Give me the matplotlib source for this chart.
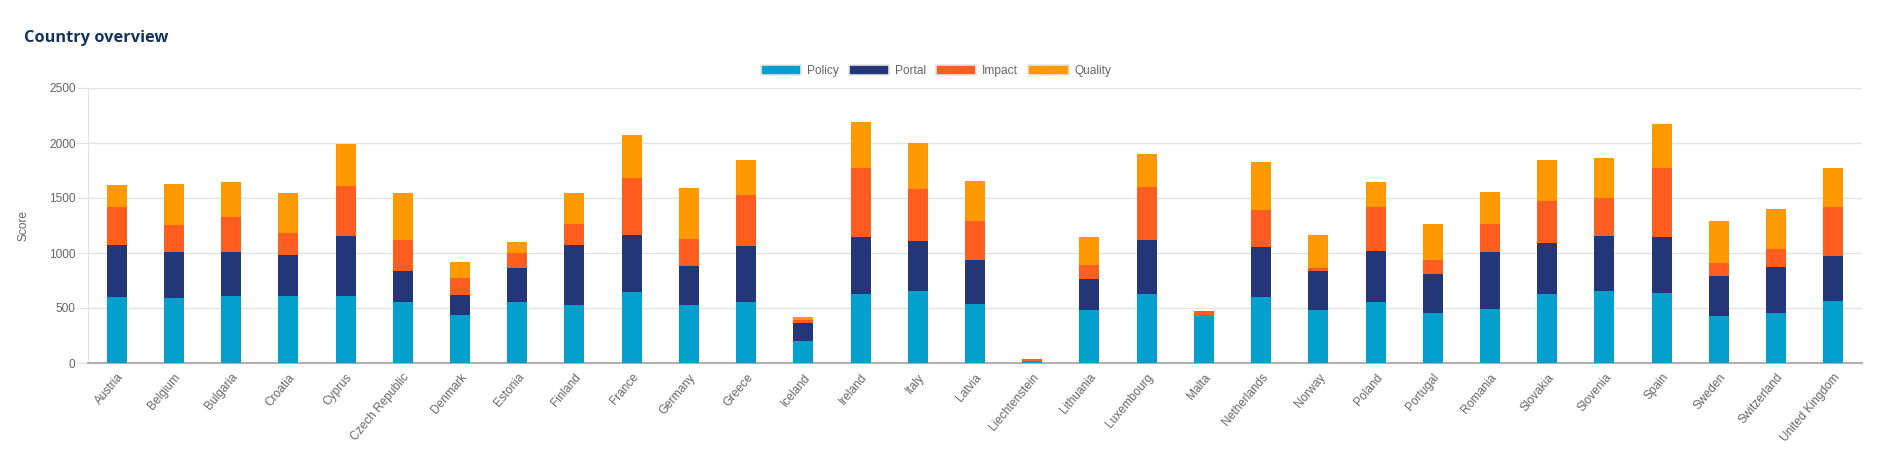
import numpy as np
import matplotlib
matplotlib.use("Agg")
import matplotlib.pyplot as plt

countries = ["Austria", "Belgium", "Bulgaria", "Croatia", "Cyprus", "Czech Republic",
             "Denmark", "Estonia", "Finland", "France", "Germany", "Greece", "Iceland",
             "Ireland", "Italy", "Latvia", "Liechtenstein", "Lithuania", "Luxembourg",
             "Malta", "Netherlands", "Norway", "Poland", "Portugal", "Romania", "Slovakia",
             "Slovenia", "Spain", "Sweden", "Switzerland", "United Kingdom"]

# values (segment sizes)
policy = [603, 594, 612, 612, 612, 558, 439, 558, 530, 648, 530, 558, 203,
          630, 658, 539, 22, 485, 630, 433, 603, 485, 558, 458, 494, 630,
          658, 639, 430, 458, 567]
portal = [473, 418, 400, 373, 546, 281, 182, 309, 546, 519, 355, 509, 164,
          518, 454, 400, 0, 282, 491, 0, 455, 354, 463, 354, 518, 464,
          500, 509, 364, 418, 409]
impact = [345, 240, 312, 200, 454, 282, 155, 136, 191, 518, 245, 463, 27,
          628, 473, 355, 17, 127, 482, 43, 336, 28, 400, 127, 255, 382,
          345, 628, 118, 163, 445]
quality = [200, 378, 324, 363, 382, 427, 145, 100, 281, 391, 464, 318, 27,
           418, 418, 364, 0, 254, 300, 0, 436, 300, 227, 328, 291, 372,
           364, 400, 382, 364, 355]

series = [("Policy", policy, "#04a0cd"),
          ("Portal", portal, "#233778"),
          ("Impact", impact, "#ff5e20"),
          ("Quality", quality, "#ff9900")]

plt.rcParams['font.family'] = ['Liberation Sans', 'DejaVu Sans']

fig = plt.figure(figsize=(18.81, 4.70), dpi=100)
ax = fig.add_axes([88 / 1881, 1 - 363 / 470, (1862 - 88) / 1881, (363 - 88) / 470])

x = np.arange(len(countries))
bottom = np.zeros(len(countries))
handles = []
for name, vals, col in series:
    vals = np.array(vals, dtype=float)
    b = ax.bar(x, vals, width=0.35, bottom=bottom, color=col, label=name, zorder=3)
    bottom += vals
    handles.append(b)

ax.set_xlim(-0.5, len(countries) - 0.5)
ax.set_ylim(0, 2500)
ax.set_yticks([0, 500, 1000, 1500, 2000, 2500])
ax.grid(axis='y', color='#e2e2e2', linewidth=1, zorder=0)
ax.set_axisbelow(True)

for s in ['top', 'right']:
    ax.spines[s].set_visible(False)
ax.spines['left'].set_color('#e2e2e2')
ax.spines['bottom'].set_color('#b0b0b0')
ax.spines['bottom'].set_linewidth(1.5)

ax.tick_params(axis='y', length=8, color='#e2e2e2', labelcolor='#666666',
               labelsize=8.6, pad=1)
ax.tick_params(axis='x', length=0, labelcolor='#666666', labelsize=8.6, pad=6)
ax.set_xticks(x)
ax.set_xticklabels(countries, rotation=50, ha='right', rotation_mode='anchor')
ax.set_ylabel("Score", color='#666666', fontsize=8.6, labelpad=14)

fig.text(24 / 1881, 1 - 38 / 470, "Country overview", fontsize=11.8, fontweight='bold',
         color='#12345f', va='center', ha='left',
         family=['Open Sans', 'DejaVu Sans'])

leg = fig.legend(handles=handles, loc='center', bbox_to_anchor=(936 / 1881, 1 - 71 / 470),
                 ncol=4, frameon=False, fontsize=8.6, handlelength=3.4, handleheight=1.0,
                 handletextpad=0.5, columnspacing=0.8)
for t in leg.get_texts():
    t.set_color('#666666')
for p in leg.get_patches():
    p.set_edgecolor('#e6e6e6')
    p.set_linewidth(1.2)

fig.savefig("out.png", dpi=100)
